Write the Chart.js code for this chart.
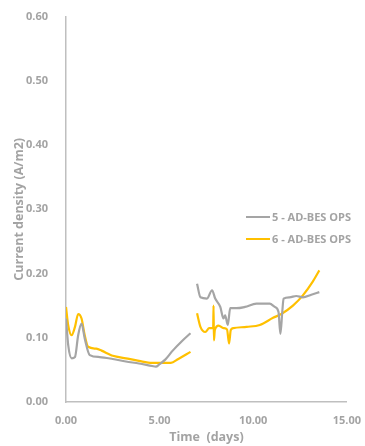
<!DOCTYPE html>
<html>
<head>
<meta charset="utf-8">
<script src="https://cdn.jsdelivr.net/npm/chart.js@4"></script>
<style>
  html, body { margin: 0; padding: 0; background: #fff; }
  #wrap { width: 365px; height: 446px; }
</style>
</head>
<body>
<div id="wrap"><canvas id="chart" width="365" height="446"></canvas></div>
<script>
// series 5 - AD-BES OPS (gray), two runs separated by a gap
var time5 = [0, 0.12, 0.3, 0.48, 0.65, 0.83, 1.0, 1.27, 1.8, 2.5, 3.2, 3.9, 4.6, 4.8, 5.0, 5.3, 5.7, 6.2, 6.65,
  6.85,
  7.0, 7.18, 7.53, 7.8, 7.97, 8.24, 8.41, 8.5, 8.64, 8.77, 9.1, 9.56, 10.17, 10.88, 11.15, 11.35, 11.45, 11.55, 11.62, 11.94, 12.3, 12.65, 13.1, 13.53];
var dens5 = [0.130, 0.088, 0.068, 0.070, 0.104, 0.122, 0.099, 0.073, 0.070, 0.067, 0.063, 0.060, 0.056, 0.055, 0.059, 0.066, 0.080, 0.095, 0.107,
  null,
  0.184, 0.163, 0.161, 0.174, 0.161, 0.148, 0.130, 0.135, 0.120, 0.146, 0.146, 0.148, 0.153, 0.153, 0.148, 0.140, 0.106, 0.140, 0.161, 0.163, 0.165, 0.163, 0.167, 0.171];

// series 6 - AD-BES OPS (yellow)
var time6 = [0, 0.12, 0.3, 0.48, 0.65, 0.83, 1.0, 1.18, 1.62, 1.9, 2.33, 2.5, 3.2, 3.9, 4.6, 5.6, 6.0, 6.65,
  6.85,
  7.0, 7.18, 7.44, 7.65, 7.86, 7.88, 7.9, 7.95, 8.15, 8.41, 8.6, 8.71, 8.8, 8.94, 9.65, 10.35, 11.06, 11.5, 12.12, 12.65, 13.17, 13.53];
var dens6 = [0.148, 0.119, 0.104, 0.117, 0.137, 0.130, 0.104, 0.086, 0.083, 0.080, 0.074, 0.072, 0.068, 0.064, 0.061, 0.061, 0.067, 0.078,
  null,
  0.138, 0.117, 0.109, 0.115, 0.115, 0.150, 0.096, 0.112, 0.119, 0.115, 0.113, 0.091, 0.112, 0.115, 0.117, 0.120, 0.131, 0.137, 0.150, 0.166, 0.187, 0.205];

var seriesNames = ['5 - AD-BES OPS', '6 - AD-BES OPS'];
var seriesColors = ['#a5a5a5', '#ffc000'];

var xTicks = [0, 5, 10, 15];
var yTicks = [0, 0.1, 0.2, 0.3, 0.4, 0.5, 0.6];

function pairs(t, v) {
  return t.map(function (x, i) { return { x: x, y: v[i] }; });
}

var textGray = '#a3a3a3';
var font = "'Open Sans', 'Liberation Sans', sans-serif";

// legend drawn inside the plot, to the right
var insideLegend = {
  id: 'insideLegend',
  afterDraw: function (chart) {
    var ctx = chart.ctx;
    var x0 = 246, y0 = 217, gap = 22;
    ctx.save();
    ctx.font = 'bold 11px ' + font;
    ctx.textBaseline = 'middle';
    chart.data.datasets.forEach(function (ds, i) {
      var y = y0 + i * gap;
      ctx.strokeStyle = ds.borderColor;
      ctx.lineWidth = 2;
      ctx.beginPath();
      ctx.moveTo(x0, y);
      ctx.lineTo(x0 + 24, y);
      ctx.stroke();
      ctx.fillStyle = textGray;
      ctx.fillText(ds.label, x0 + 26, y + 0.5);
    });
    ctx.restore();
  }
};

new Chart(document.getElementById('chart'), {
  type: 'line',
  data: {
    datasets: [
      {
        label: seriesNames[0],
        data: pairs(time5, dens5),
        borderColor: seriesColors[0],
        borderWidth: 2.2,
        pointRadius: 0,
        cubicInterpolationMode: 'monotone',
        spanGaps: false,
        fill: false
      },
      {
        label: seriesNames[1],
        data: pairs(time6, dens6),
        borderColor: seriesColors[1],
        borderWidth: 2.2,
        pointRadius: 0,
        cubicInterpolationMode: 'monotone',
        spanGaps: false,
        fill: false
      }
    ]
  },
  options: {
    responsive: false,
    animation: false,
    layout: { padding: { top: 8, right: 14, left: 0, bottom: 0 } },
    plugins: {
      legend: { display: false },
      tooltip: { enabled: false }
    },
    scales: {
      x: {
        type: 'linear',
        min: 0,
        max: 15,
        afterBuildTicks: function (axis) {
          axis.ticks = xTicks.map(function (v) { return { value: v }; });
        },
        afterFit: function (axis) { axis.height = 44; },
        ticks: {
          color: textGray,
          font: { family: font, size: 11, weight: 'bold' },
          padding: 4,
          maxRotation: 0,
          callback: function (v) { return Number(v).toFixed(2); }
        },
        grid: { display: false },
        border: { display: true, color: '#bfbfbf', width: 1.5 },
        title: {
          display: true,
          text: 'Time  (days)',
          color: textGray,
          font: { family: font, size: 12.5, weight: 'bold' },
          padding: { top: 0, bottom: 1 }
        }
      },
      y: {
        min: 0,
        max: 0.6,
        afterBuildTicks: function (axis) {
          axis.ticks = yTicks.map(function (v) { return { value: v }; });
        },
        afterFit: function (axis) { axis.width = 66; },
        ticks: {
          color: textGray,
          font: { family: font, size: 11, weight: 'bold' },
          padding: 10,
          callback: function (v) { return Number(v).toFixed(2); }
        },
        grid: { display: false },
        border: { display: true, color: '#bfbfbf', width: 1.5 },
        title: {
          display: true,
          text: 'Current density (A/m2)',
          color: textGray,
          font: { family: font, size: 12.5, weight: 'bold' },
          padding: { top: 12, bottom: 0 }
        }
      }
    }
  },
  plugins: [insideLegend]
});
</script>
</body>
</html>
